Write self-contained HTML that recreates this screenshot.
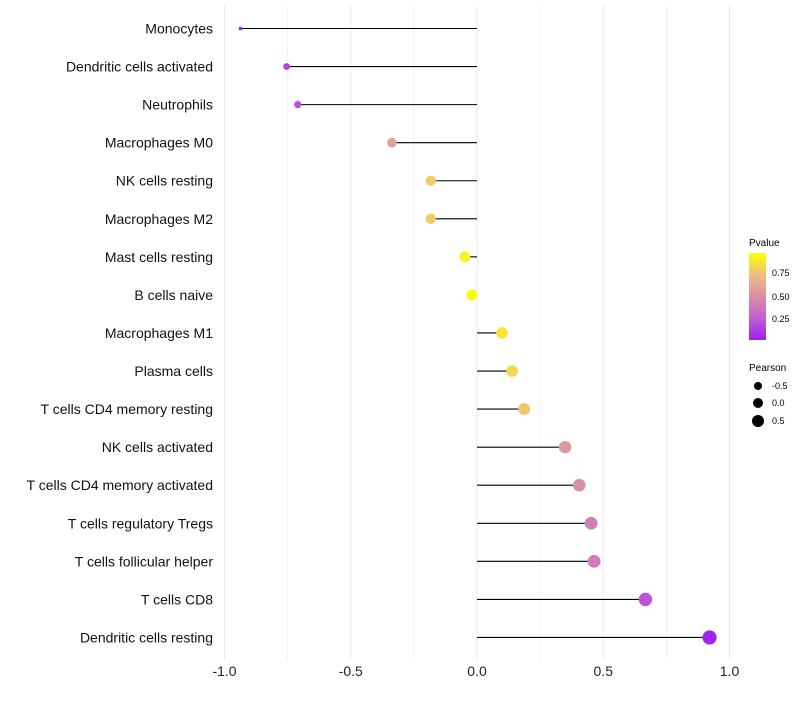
<!DOCTYPE html>
<html><head><meta charset="utf-8"><style>
body{margin:0;background:#fff;font-family:"Liberation Sans",sans-serif}
</style></head><body>
<svg id="chart" width="800" height="700" xmlns="http://www.w3.org/2000/svg" font-family="Liberation Sans, sans-serif">
<g id="grid"></g>
<g id="marks"></g>
<g id="labels"></g>
<g id="xt"></g>
<g id="legend">
<defs><linearGradient id="pg" x1="0" y1="1" x2="0" y2="0">
<stop offset="0" stop-color="#A01FF0"/><stop offset="0.25" stop-color="#C060D0"/><stop offset="0.5" stop-color="#DA8EA8"/><stop offset="0.75" stop-color="#EFBE7E"/><stop offset="1" stop-color="#FFFF00"/></linearGradient></defs>
<text x="749" y="246" font-size="10">Pvalue</text>
<rect x="749" y="253" width="17" height="87" fill="url(#pg)"/>
<text x="772" y="276" font-size="9">0.75</text>
<text x="772" y="300" font-size="9">0.50</text>
<text x="772" y="322" font-size="9">0.25</text>
<text x="749" y="371" font-size="10">Pearson</text>
<circle cx="758" cy="386" r="4" fill="#000"/>
<circle cx="758" cy="403" r="5" fill="#000"/>
<circle cx="758" cy="421" r="6" fill="#000"/>
<text x="772" y="389" font-size="9">-0.5</text>
<text x="772" y="406" font-size="9">0.0</text>
<text x="772" y="424" font-size="9">0.5</text>
</g>
</svg>
<script>
const categories=["Monocytes","Dendritic cells activated","Neutrophils","Macrophages M0","NK cells resting","Macrophages M2","Mast cells resting","B cells naive","Macrophages M1","Plasma cells","T cells CD4 memory resting","NK cells activated","T cells CD4 memory activated","T cells regulatory  Tregs ","T cells follicular helper","T cells CD8","Dendritic cells resting"];
const pearson=[-0.937,-0.754,-0.71,-0.337,-0.183,-0.183,-0.048,-0.02,0.099,0.139,0.187,0.349,0.405,0.452,0.464,0.667,0.921];
const pvalue=[0.01,0.15,0.2,0.6,0.8,0.8,0.95,0.98,0.9,0.85,0.78,0.55,0.5,0.42,0.4,0.2,0.02];
const xTicks=[-1,-0.5,0,0.5,1];
const xTickLabels=["-1.0","-0.5","0.0","0.5","1.0"];
const NS="http://www.w3.org/2000/svg";
const xs=v=>477+v*252.5;
const ys=i=>28.5+i*38.06;
const rs=v=>1.8+5.3*Math.sqrt(Math.max(0,(v+0.937)/1.858));
const stops=[[0,[160,31,240]],[0.25,[192,96,208]],[0.5,[218,142,168]],[0.75,[239,190,126]],[1,[255,255,0]]];
function col(p){for(let i=0;i<stops.length-1;i++){const a=stops[i],b=stops[i+1];if(p<=b[0]){const t=(p-a[0])/(b[0]-a[0]);return 'rgb('+a[1].map((c,k)=>Math.round(c+(b[1][k]-c)*t)).join(',')+')';}}return 'rgb(255,255,0)';}
function mk(tag,attrs,parent){const e=document.createElementNS(NS,tag);for(const k in attrs)e.setAttribute(k,attrs[k]);document.getElementById(parent).appendChild(e);return e;}
for(let g=-1;g<=1.001;g+=0.25){const l=mk('line',{x1:xs(g),x2:xs(g),y1:5,y2:660,stroke:'#ebebeb','stroke-width':Math.abs(g*2%1)<0.01?1:0.6},'grid');

}
xTicks.forEach((t,i)=>{const e=mk('text',{x:xs(t),y:676,'font-size':14,'text-anchor':'middle',fill:'#222'},'xt');e.textContent=xTickLabels[i];

});
categories.forEach((c,i)=>{const y=ys(i);
const t=mk('text',{x:213,y:y+5,'font-size':14,'text-anchor':'end',fill:'#111','xml:space':'preserve'},'labels');t.textContent=c;


const l=mk('line',{x1:xs(0),x2:xs(pearson[i]),y1:y,y2:y,stroke:'#000','stroke-width':1.1},'marks');


const p=mk('circle',{cx:xs(pearson[i]),cy:y,r:rs(pearson[i]),fill:col(pvalue[i])},'marks');

});
</script>
</body></html>
